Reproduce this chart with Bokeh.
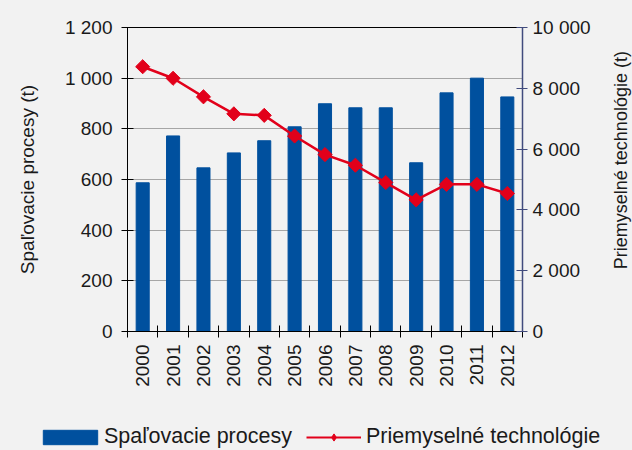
from math import pi
from bokeh.plotting import figure
from bokeh.layouts import column, row
from bokeh.models import (LinearAxis, Range1d, FixedTicker, Legend, LegendItem,
                          ColumnDataSource, Grid, Label)
from bokeh.embed import file_html
from bokeh.resources import INLINE

years = ["2000", "2001", "2002", "2003", "2004", "2005", "2006",
         "2007", "2008", "2009", "2010", "2011", "2012"]
spalovacie = [587, 772, 646, 705, 753, 808, 899, 883, 883, 666, 942, 1000, 926]
priemyselne = [8710, 8330, 7720, 7160, 7110, 6430, 5820, 5470, 4900, 4330, 4840, 4840, 4540]
left_ticks = [0, 200, 400, 600, 800, 1000, 1200]
right_ticks = [0, 2000, 4000, 6000, 8000, 10000]
left_title = "Spaľovacie procesy (t)"
right_title = "Priemyselné technológie (t)"
series_names = ["Spaľovacie procesy", "Priemyselné technológie"]


def fmt(v):
    return f"{v:,}".replace(",", " ")


FONT = "Liberation Sans"
BG = "#f2f2f2"
BLUE = "#00509e"
RED = "#e2001a"
NAVY = "#414b7d"
TXT = "#1a1a1a"

n = len(years)
xs = list(range(1, n + 1))
src = ColumnDataSource(dict(x=xs, year=years, spal=spalovacie, priem=priemyselne))

MAIN_W, MAIN_H = 604, 424

p = figure(width=MAIN_W, height=MAIN_H, output_backend="svg", toolbar_location=None,
           x_range=Range1d(0.5, n + 0.5), y_range=Range1d(0, 1200),
           x_axis_type=None, y_axis_type=None,
           background_fill_color=BG, border_fill_color=BG,
           min_border_left=127, min_border_right=82, min_border_top=27, min_border_bottom=93)
p.extra_y_ranges = {"right": Range1d(0, 10000)}
p.outline_line_color = "black"
p.outline_line_width = 1

# grid
p.add_layout(Grid(dimension=1, ticker=FixedTicker(ticks=left_ticks[1:-1]),
                  grid_line_color="#a6a6a6", grid_line_width=1))

# left axis
yaxis = LinearAxis(ticker=FixedTicker(ticks=left_ticks),
                   major_label_overrides={t: fmt(t) for t in left_ticks},
                   axis_label=left_title,
                   axis_label_standoff=24,
                   axis_label_text_font=FONT, axis_label_text_font_size="19px",
                   axis_label_text_font_style="normal", axis_label_text_color=TXT,
                   major_label_text_font=FONT, major_label_text_font_size="19px",
                   major_label_text_color=TXT, major_label_standoff=9,
                   axis_line_color="black", major_tick_line_color="black",
                   major_tick_in=6, major_tick_out=6, minor_tick_line_color=None)
p.add_layout(yaxis, "left")

# right axis
raxis = LinearAxis(y_range_name="right", ticker=FixedTicker(ticks=right_ticks),
                   major_label_overrides={t: fmt(t) for t in right_ticks},
                   major_label_text_font=FONT, major_label_text_font_size="19px",
                   major_label_text_color=TXT, major_label_standoff=5,
                   axis_line_color=NAVY, axis_line_width=1.5,
                   major_tick_line_color=NAVY,
                   major_tick_in=6, major_tick_out=5, minor_tick_line_color=None)
p.add_layout(raxis, "right")

# bottom axis
xaxis = LinearAxis(ticker=FixedTicker(ticks=xs, minor_ticks=[i + 0.5 for i in range(0, n + 1)]),
                   major_label_overrides={x: y for x, y in zip(xs, years)},
                   major_label_orientation=pi / 2,
                   major_label_text_font=FONT, major_label_text_font_size="19px",
                   major_label_text_color=TXT, major_label_standoff=7,
                   axis_line_color="black",
                   major_tick_line_color=None, major_tick_in=0, major_tick_out=0,
                   minor_tick_line_color="black", minor_tick_in=6, minor_tick_out=6)
p.add_layout(xaxis, "below")

bar_style = dict(fill_color=BLUE, line_color=BLUE)
line_style = dict(line_color=RED, line_width=2.5)

p.vbar(x="x", top="spal", width=0.43, source=src, **bar_style)
p.line(x="x", y="priem", y_range_name="right", source=src, **line_style)
p.scatter(x="x", y="priem", y_range_name="right", source=src,
          marker="square", angle=pi / 4, size=10, fill_color=RED, line_color=RED)

# right axis title (separate narrow panel so it reads bottom-to-top)
pt = figure(width=632 - MAIN_W, height=MAIN_H, output_backend="svg", toolbar_location=None,
            x_range=Range1d(0, 1), y_range=Range1d(0, MAIN_H),
            x_axis_type=None, y_axis_type=None,
            background_fill_color=BG, border_fill_color=BG, min_border=0)
pt.outline_line_color = None
pt.add_layout(Label(x=0.6, y=MAIN_H - 185, text=right_title, angle=pi / 2,
                    text_align="center", text_baseline="middle",
                    text_font=FONT, text_font_size="18px", text_color=TXT))

# legend panel (its sample glyphs sit outside the visible range)
pl = figure(width=632, height=450 - MAIN_H, output_backend="svg", toolbar_location=None,
            x_range=Range1d(0, 1), y_range=Range1d(0, 1),
            x_axis_type=None, y_axis_type=None,
            background_fill_color=BG, border_fill_color=BG, min_border=0)
pl.outline_line_color = None
lb = pl.vbar(x=[-5], top=[-5], width=0.5, **bar_style)
ll = pl.line(x=[-6, -5], y=[-5, -5], line_color=RED, line_width=2)
lm = pl.scatter(x=[-5], y=[-5], marker="diamond", size=13,
                fill_color=RED, line_color=RED)
leg_common = dict(orientation="horizontal", label_height=24,
                  label_text_font=FONT, label_text_font_size="21.5px", label_text_color=TXT,
                  background_fill_alpha=0, border_line_color=None, padding=0, margin=0)
legend1 = Legend(items=[LegendItem(label=series_names[0], renderers=[lb])],
                 location=(36, 1), glyph_width=68, glyph_height=18, label_standoff=0,
                 **leg_common)
legend2 = Legend(items=[LegendItem(label=series_names[1], renderers=[ll, lm])],
                 location=(306, 1), glyph_width=55, glyph_height=18, label_standoff=5,
                 **leg_common)
pl.add_layout(legend1, "center")
pl.add_layout(legend2, "center")

layout = column(row(p, pt, spacing=0), pl, spacing=0)
html = file_html(layout, INLINE)
html = html.replace("</head>", "<style>body{background:#f2f2f2;}</style></head>", 1)
open("out.html", "w").write(html)
